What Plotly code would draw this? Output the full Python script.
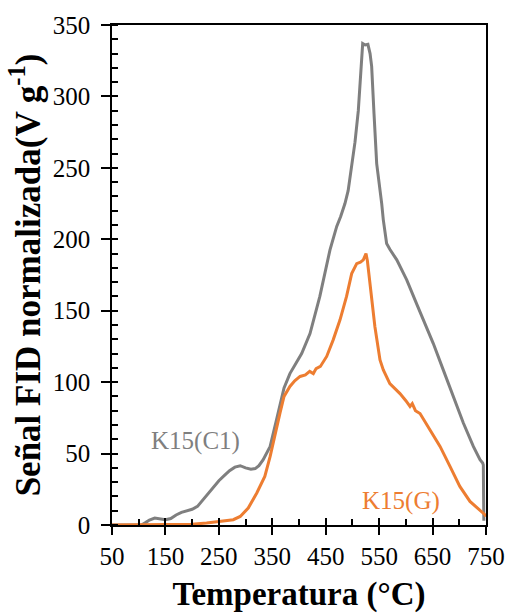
import plotly.graph_objects as go

# K15(C1) gray curve (temperature in °C, signal in V/g)
t_c1 = [50, 80, 105, 112, 120, 130, 140, 150, 160, 170, 180, 190, 200, 210, 220, 230, 240, 250, 260, 270, 280, 290, 300, 310, 318, 325, 333, 346, 358, 364.5, 372, 383, 395, 405, 420.6, 439, 458, 470.6, 478, 486, 492, 498.6, 504.8, 511, 515.5, 519.2, 524, 529, 533, 536, 540.4, 545.4, 554.8, 557.8, 564, 570, 583, 601.6, 620, 632.7, 651.4, 670, 689, 707.6, 726.3, 738.8, 743.8, 745, 745.5, 746]
v_c1 = [0, 0, 0, 1.5, 3.5, 4.9, 4.2, 3.7, 4.5, 7, 8.8, 10, 11, 13, 17.5, 22, 27, 31, 34.5, 38, 40.5, 41.5, 40, 39, 39.5, 41.5, 45.7, 55, 73.7, 85, 96, 106, 114, 120, 134, 160, 192.6, 209, 216, 225, 234, 250, 268, 290, 318, 337, 336, 336.5, 330, 321, 288, 253, 225, 213.6, 197, 193, 185.6, 171.6, 155, 143.6, 127, 108.6, 90, 71.4, 55, 45.7, 43.4, 42, 20, 3]

# K15(G) orange curve
t_g = [50, 100, 150, 200, 227, 250, 277, 290, 305, 321, 336, 346, 355, 364.5, 372, 383, 392, 402, 412, 420, 426.8, 432, 440, 451.8, 464, 476.8, 489, 498.6, 508, 515, 520.4, 525.4, 528, 533, 542, 551.6, 557.8, 570, 589, 600, 607.8, 612, 618, 626.5, 645, 664, 682.6, 701, 720, 738.8, 748, 750]
v_g = [0, 0, 0.2, 0.5, 1.4, 2.5, 3.7, 6, 11.9, 22.4, 34, 48, 64, 78.5, 90, 97, 101, 104, 105, 107.5, 106, 109.5, 111, 118, 129.6, 143.6, 160, 176, 183, 184, 185.6, 190, 185, 167, 139, 115.6, 108.6, 99, 92, 87, 83, 85, 80, 78, 66.7, 55, 41, 27, 16.5, 10.7, 7.2, 6]

x_ticks = [50, 150, 250, 350, 450, 550, 650, 750]
x_minor = [100, 200, 300, 400, 500, 600, 700]
y_ticks = [0, 50, 100, 150, 200, 250, 300, 350]

GRAY = "#7f7f7f"
ORANGE = "#ed7d31"
FONT = "Liberation Serif"
TICKFONT = dict(family=FONT, size=25, color="black")

fig = go.Figure()
fig.add_trace(go.Scatter(x=t_c1, y=v_c1, mode="lines", line=dict(color=GRAY, width=3), showlegend=False))
fig.add_trace(go.Scatter(x=t_g, y=v_g, mode="lines", line=dict(color=ORANGE, width=3), showlegend=False))
# invisible trace for the secondary (inside-tick) x axis
fig.add_trace(go.Scatter(x=[50, 750], y=[0, 0], mode="lines", line=dict(width=0), xaxis="x2", showlegend=False, hoverinfo="skip"))

fig.update_layout(
    width=507, height=613,
    margin=dict(l=112, r=21, t=25, b=88),
    plot_bgcolor="white", paper_bgcolor="white",
    font=dict(family=FONT, size=25, color="black"),
    xaxis=dict(
        range=[50, 750], tickvals=x_ticks, ticktext=[str(v) for v in x_ticks],
        tickfont=TICKFONT, automargin=False,
        ticks="outside", ticklen=8, tickwidth=1.5, tickcolor="black",
        minor=dict(tickvals=x_minor, ticks="inside", ticklen=6, tickwidth=1.5, tickcolor="black"),
        showline=True, linecolor="black", linewidth=1.5, mirror=True,
        showgrid=False, zeroline=False,
        title=dict(text="<b>Temperatura (°C)</b>", font=dict(family=FONT, size=33, color="black"), standoff=17),
    ),
    xaxis2=dict(
        range=[50, 750], overlaying="x", side="bottom", anchor="y",
        tickvals=x_ticks, showticklabels=False, ticks="inside", ticklen=7, tickwidth=1.5, tickcolor="black",
        showline=False, showgrid=False, zeroline=False, automargin=False,
    ),
    yaxis=dict(
        range=[0, 350], tickvals=y_ticks, tickfont=TICKFONT, automargin=False,
        ticks="outside", ticklen=9, tickwidth=1.5, tickcolor="black", ticklabelstandoff=6,
        minor=dict(dtick=10, ticks="inside", ticklen=6, tickwidth=1.5, tickcolor="black"),
        showline=True, linecolor="black", linewidth=1.5, mirror=True,
        showgrid=False, zeroline=False,
        title=dict(text="<b>Señal FID normalizada(V g<sup>-1</sup>)</b>", font=dict(family=FONT, size=35, color="black"), standoff=2),
    ),
    annotations=[
        dict(x=207, y=58.5, xref="x", yref="y", text="K15(C1)", showarrow=False,
             font=dict(family=FONT, size=25, color=GRAY)),
        dict(x=590, y=16.5, xref="x", yref="y", text="K15(G)", showarrow=False,
             font=dict(family=FONT, size=25, color=ORANGE)),
    ],
)

fig.write_html("out.html")
